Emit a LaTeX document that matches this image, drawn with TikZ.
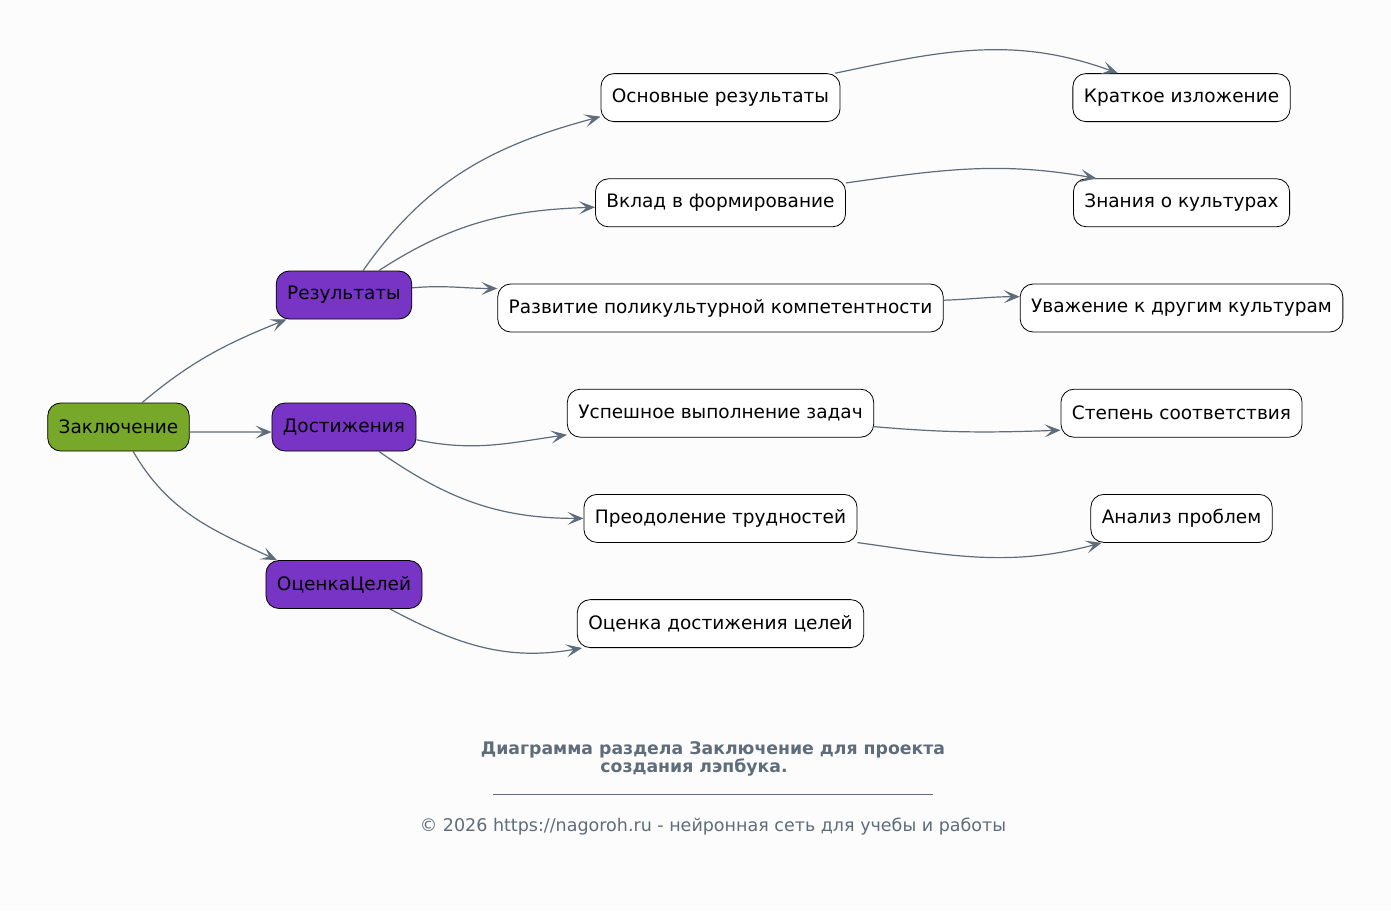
\documentclass[tikz,border=0pt]{standalone}
\usepackage{fontspec}
\setmainfont{DejaVu Sans}
\usetikzlibrary{positioning,arrows.meta}

\definecolor{edgegray}{RGB}{95,108,122}
\definecolor{rootgreen}{RGB}{119,168,41}
\definecolor{midpurple}{RGB}{120,52,196}
\definecolor{pagebg}{RGB}{252,252,252}

\begin{document}
\begin{tikzpicture}[x=1pt, y=-1pt, node distance=105.2pt,
    >={Stealth[length=16pt,width=13pt,inset=7.5pt]}]
  \tikzset{box/.style={draw=black, rounded corners=13pt, minimum height=48pt,
      inner xsep=11pt, line width=0.8pt, font=\fontsize{18.5}{20}\selectfont}}
  \tikzset{rootbox/.style={box, fill=rootgreen}}
  \tikzset{topicbox/.style={box, fill=midpurple}}
  \tikzset{leafbox/.style={box, fill=white}}
  \tikzset{link/.style={->, draw=edgegray, line width=1.2pt}}

  \fill[pagebg] (0,0) rectangle (1391,910);
  \useasboundingbox (0,0) rectangle (1391,910);

  \node[rootbox] (zak) at (118.5,427) {Заключение};
  \node[topicbox] (dost) [right of=zak, node distance=225.5pt] {Достижения};
  \node[topicbox] (res) [above of=dost, node distance=132pt] {Результаты};
  \node[topicbox] (oc) [below of=dost, node distance=157.5pt] {ОценкаЦелей};

  \node[leafbox] (raz) at (720.5,308) {Развитие поликультурной компетентности};
  \node[leafbox] (vkl) [above of=raz] {Вклад в формирование};
  \node[leafbox] (osn) [above of=vkl] {Основные результаты};
  \node[leafbox] (usp) [below of=raz] {Успешное выполнение задач};
  \node[leafbox] (pre) [below of=usp] {Преодоление трудностей};
  \node[leafbox] (ocd) [below of=pre] {Оценка достижения целей};

  \node[leafbox] (kr) [right of=osn, node distance=461pt] {Краткое изложение};
  \node[leafbox] (zn) [right of=vkl, node distance=461pt] {Знания о культурах};
  \node[leafbox] (uv) [right of=raz, node distance=461pt] {Уважение к другим культурам};
  \node[leafbox] (st) [right of=usp, node distance=461pt] {Степень соответствия};
  \node[leafbox] (an) [right of=pre, node distance=461pt] {Анализ проблем};

  \path (zak.46) edge[link, out=40, in=202] (res.203);
  \path (zak.-4) edge[link] (dost.184);
  \path (zak.-59) edge[link, out=-60, in=155] (oc.160);

  \path (res.52) edge[link, out=55, in=195] (osn.189);
  \path (res.35) edge[link, out=33, in=182] (vkl.182);
  \path (res.6) edge[link, out=5, in=180] (raz.175);
  \path (dost.-10) edge[link, out=-12, in=188] (usp.188);
  \path (dost.-35) edge[link, out=-35, in=180] (pre.180);
  \path (oc.-28) edge[link, out=-28, in=190] (ocd.190);

  \path (osn.12) edge[link, out=12, in=160] (kr.159);
  \path (vkl.9) edge[link, out=8, in=170] (zn.164);
  \path (raz.2) edge[link, out=2, in=180] (uv.176);
  \path (usp.-5) edge[link, out=-5, in=182] (st.188);
  \path (pre.-10) edge[link, out=-8, in=195] (an.197);

  % caption and footer
  \node[text=edgegray, align=center, font=\bfseries\fontsize{17.3}{18}\selectfont]
    (cap) at (713,759) {Диаграмма раздела Заключение для проекта\\создания лэпбука.\hspace*{38pt}};
  \coordinate (ruleL) at (493,794);
  \coordinate (ruleR) at (933,794);
  \draw[edgegray, line width=0.6pt] (ruleL) -- (ruleR);
  \node[text=edgegray, font=\fontsize{17.5}{18}\selectfont]
    (copy) at (713,827) {© 2026 https://nagoroh.ru - нейронная сеть для учебы и работы};
\end{tikzpicture}
\end{document}
